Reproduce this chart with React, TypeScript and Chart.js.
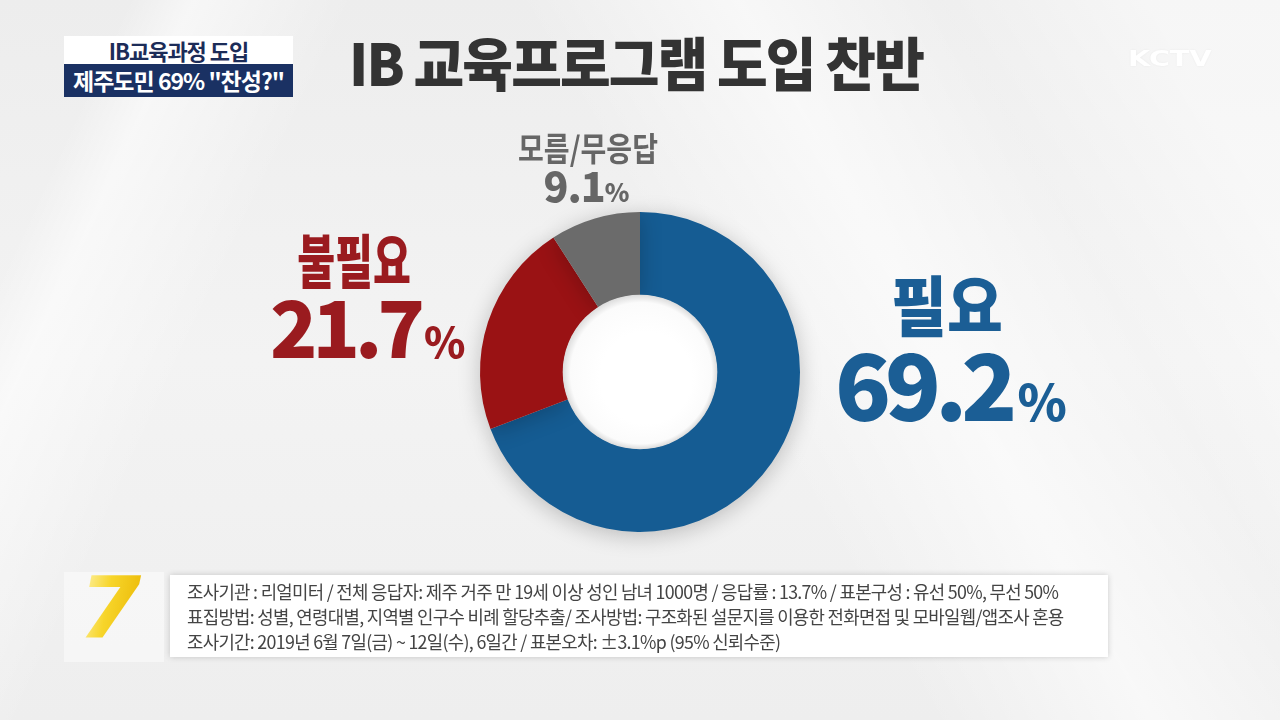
import React, { useEffect, useRef } from "react";
import { Chart, registerables } from "chart.js";

Chart.register(...registerables);

const categories = ["필요", "불필요", "모름/무응답"];
const values = [69.2, 21.7, 9.1];
const sliceColors = ["#155c93", "#9a1214", "#6b6b6b"];
const labelColors = ["#1b5e95", "#9a1b1f", "#666666"];
const title = "IB 교육프로그램 도입 찬반";
const capTop = "IB교육과정 도입";
const capBottom = '제주도민 69% "찬성?"';
const footerLines = [
  "조사기관 : 리얼미터 / 전체 응답자: 제주 거주 만 19세 이상 성인 남녀 1000명 / 응답률 : 13.7% / 표본구성 : 유선 50%, 무선 50%",
  "표집방법: 성별, 연령대별, 지역별 인구수 비례 할당추출/ 조사방법: 구조화된 설문지를 이용한 전화면접 및 모바일웹/앱조사 혼용",
  "조사기간: 2019년 6월 7일(금) ~ 12일(수), 6일간 / 표본오차:  ±3.1%p (95% 신뢰수준)",
];

const KR = '"Noto Sans CJK KR", "Noto Sans", sans-serif';

const shadowPlugin = {
  id: "softShadow",
  beforeDatasetsDraw(chart: any) {
    const ctx = chart.ctx;
    ctx.save();
    ctx.shadowColor = "rgba(0,0,0,0.22)";
    ctx.shadowBlur = 22;
    ctx.shadowOffsetX = 0;
    ctx.shadowOffsetY = 4;
  },
  afterDatasetsDraw(chart: any) {
    const ctx = chart.ctx;
    ctx.restore();
    const meta = chart.getDatasetMeta(0);
    const arc = meta.data[0];
    if (!arc) return;
    const { x, y, innerRadius } = arc.getProps(["x", "y", "innerRadius"], true);
    const g = ctx.createRadialGradient(x + 6, y + 6, innerRadius * 0.6, x, y, innerRadius);
    g.addColorStop(0, "#ffffff");
    g.addColorStop(0.8, "#fbfbfb");
    g.addColorStop(1, "#dedede");
    ctx.save();
    ctx.beginPath();
    ctx.arc(x, y, innerRadius + 0.5, 0, Math.PI * 2);
    ctx.fillStyle = g;
    ctx.fill();
    ctx.restore();
  },
};

function Donut() {
  const ref = useRef<HTMLCanvasElement | null>(null);
  useEffect(() => {
    if (!ref.current) return;
    const chart = new Chart(ref.current, {
      type: "doughnut",
      data: {
        labels: categories,
        datasets: [
          {
            data: values,
            backgroundColor: sliceColors,
            borderWidth: 0,
            hoverOffset: 0,
          },
        ],
      },
      options: {
        responsive: false,
        maintainAspectRatio: false,
        animation: false,
        cutout: "48%",
        layout: { padding: 40 },
        plugins: {
          legend: { display: false },
          tooltip: { enabled: false },
        },
      },
      plugins: [shadowPlugin],
    });
    return () => chart.destroy();
  }, []);
  return (
    <canvas
      ref={ref}
      width={400}
      height={400}
      style={{ position: "absolute", left: 440, top: 172, width: 400, height: 400 }}
    />
  );
}

export default function App() {
  useEffect(() => {
    document.body.style.margin = "0";
  }, []);
  return (
    <div
      style={{
        position: "fixed",
        left: 0,
        top: 0,
        width: 1280,
        height: 720,
        overflow: "hidden",
        fontFamily: KR,
        background:
          "linear-gradient(115deg, rgba(255,255,255,0) 0%, rgba(255,255,255,0) 8%, rgba(255,255,255,0.55) 12%, rgba(255,255,255,0) 22%, rgba(255,255,255,0) 100%), linear-gradient(60deg, rgba(255,255,255,0) 55%, rgba(255,255,255,0.6) 68%, rgba(255,255,255,0.1) 80%, rgba(255,255,255,0.5) 92%), linear-gradient(180deg, #ededed 0%, #f3f3f3 50%, #eeeeee 100%)",
      }}
    >
      {/* top-left caption */}
      <div
        style={{
          position: "absolute",
          left: 64,
          top: 36,
          width: 229,
          height: 28,
          background: "#ffffff",
          color: "#1c2c58",
          fontSize: 22,
          fontWeight: 700,
          lineHeight: "28px",
          textAlign: "center",
          letterSpacing: -1,
        }}
      >
        {capTop}
      </div>
      <div
        style={{
          position: "absolute",
          left: 64,
          top: 64,
          width: 229,
          height: 33,
          background: "#1a3163",
          color: "#ffffff",
          fontSize: 23,
          fontWeight: 700,
          lineHeight: "33px",
          textAlign: "center",
          letterSpacing: -1,
        }}
      >
        {capBottom}
      </div>

      {/* KCTV logo */}
      <div
        style={{
          position: "absolute",
          left: 1128,
          top: 45,
          fontFamily: '"DejaVu Sans", sans-serif',
          fontWeight: 900,
          fontSize: 22,
          lineHeight: "28px",
          color: "rgba(255,255,255,0.95)",
          letterSpacing: 0,
          textShadow: "0 0 2px rgba(0,0,0,0.06)",
          transform: "scaleX(1.3)",
          transformOrigin: "left",
        }}
      >
        KCTV
      </div>

      {/* title */}
      <div
        style={{
          position: "absolute",
          left: 0,
          width: 1272,
          top: 26,
          textAlign: "center",
          fontSize: 58,
          fontWeight: 900,
          color: "#333333",
          letterSpacing: -2,
          lineHeight: "70px",
          transform: "scaleX(0.95)",
        }}
      >
        {title}
      </div>

      <Donut />

      {/* 모름/무응답 */}
      <div
        style={{
          position: "absolute",
          left: 488,
          width: 200,
          top: 131,
          textAlign: "center",
          color: labelColors[2],
          fontWeight: 700,
          fontSize: 33,
          lineHeight: "32px",
          transform: "scaleX(0.85)",
        }}
      >
        {categories[2]}
      </div>
      <div
        style={{
          position: "absolute",
          left: 486,
          width: 200,
          top: 163,
          textAlign: "center",
          color: labelColors[2],
          fontWeight: 900,
          fontSize: 41,
          lineHeight: "42px",
          letterSpacing: -1,
        }}
      >
        {values[2].toFixed(1)}
        <span style={{ fontSize: 25 }}>%</span>
      </div>

      {/* 불필요 */}
      <div
        style={{
          position: "absolute",
          left: 254,
          width: 200,
          top: 232,
          textAlign: "center",
          color: labelColors[1],
          fontWeight: 900,
          fontSize: 58,
          lineHeight: "52px",
          transform: "scaleX(0.71)",
        }}
      >
        {categories[1]}
      </div>
      <div
        style={{
          position: "absolute",
          left: 270,
          top: 289,
          color: labelColors[1],
          fontWeight: 900,
          fontSize: 78,
          lineHeight: "70px",
          letterSpacing: -5,
          whiteSpace: "nowrap",
        }}
      >
        {values[1].toFixed(1)}
        <span style={{ fontSize: 42, letterSpacing: 0, marginLeft: 4 }}>%</span>
      </div>

      {/* 필요 */}
      <div
        style={{
          position: "absolute",
          left: 847,
          width: 200,
          top: 270,
          textAlign: "center",
          color: labelColors[0],
          fontWeight: 900,
          fontSize: 66,
          lineHeight: "64px",
          transform: "scaleX(0.92)",
        }}
      >
        {categories[0]}
      </div>
      <div
        style={{
          position: "absolute",
          left: 835,
          top: 341,
          color: labelColors[0],
          fontWeight: 900,
          fontSize: 92,
          lineHeight: "80px",
          letterSpacing: -6,
          whiteSpace: "nowrap",
        }}
      >
        {values[0].toFixed(1)}
        <span style={{ fontSize: 50, letterSpacing: 0, marginLeft: 6 }}>%</span>
      </div>

      {/* footer logo 7 */}
      <div
        style={{
          position: "absolute",
          left: 64,
          top: 572,
          width: 100,
          height: 90,
          background: "rgba(255,255,255,0.45)",
        }}
      />
      <div
        style={{
          position: "absolute",
          left: 80,
          top: 562,
          fontFamily: '"DejaVu Sans", sans-serif',
          fontWeight: 900,
          fontStyle: "italic",
          fontSize: 86,
          lineHeight: "92px",
          background: "linear-gradient(100deg, #fff8c0 0%, #f7d52a 45%, #e9b400 100%)",
          WebkitBackgroundClip: "text",
          backgroundClip: "text",
          color: "transparent",
          transform: "scaleX(1.05)",
        }}
      >
        7
      </div>

      {/* footer box */}
      <div
        style={{
          position: "absolute",
          left: 170,
          top: 575,
          width: 938,
          height: 82,
          background: "rgba(255,255,255,0.96)",
          boxShadow: "0 0 6px rgba(0,0,0,0.18)",
        }}
      >
        {footerLines.map((t, i) => (
          <div
            key={i}
            style={{
              position: "absolute",
              left: 17,
              top: 4 + i * 25,
              fontSize: 18,
              lineHeight: "24px",
              color: "#444444",
              whiteSpace: "nowrap",
              letterSpacing: -0.7,
              transform: "scaleX(0.99)",
              transformOrigin: "left",
            }}
          >
            {t}
          </div>
        ))}
      </div>
    </div>
  );
}
